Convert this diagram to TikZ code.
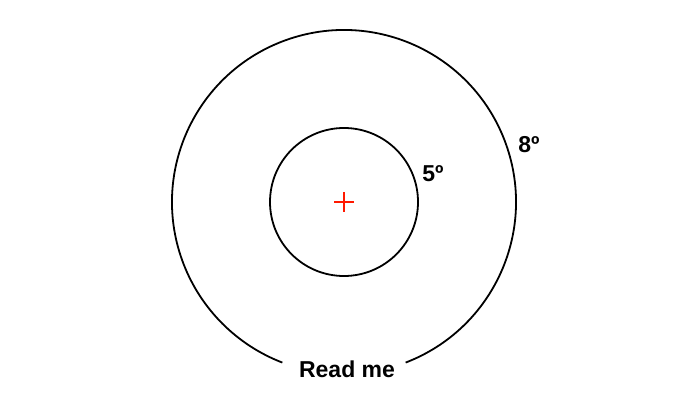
\documentclass[tikz,border=0pt]{standalone}
\usepackage{fontspec}
\setmainfont{Liberation Sans}
\usetikzlibrary{arrows.meta,positioning,calc}

\begin{document}
\begin{tikzpicture}[x=1pt,y=1pt,font=\fontsize{23}{26}\selectfont\bfseries]
\tikzstyle{ring}=[draw,line width=1.8pt]
\tikzstyle{lbl}=[inner sep=0pt]
\useasboundingbox (0,0) rectangle (692,409);
\coordinate (c) at (344,207);
\node[ring,circle,minimum size=148pt,inner sep=0pt] (inner) at (c) {};
\draw[ring] ($(c)+(291:172)$) arc (-69:249:172);
\node[lbl] (five) at (433,235) {5º}; \node[lbl] (eight) at (529,264) {8º};
\node[lbl] (read) at (347,40) {Read me};
\draw[red!80!orange,line width=1.3pt] ($(c)+(-10,0)$) -- ($(c)+(10,0)$) ($(c)+(0,-10)$) -- ($(c)+(0,10)$);
\end{tikzpicture}
\end{document}
